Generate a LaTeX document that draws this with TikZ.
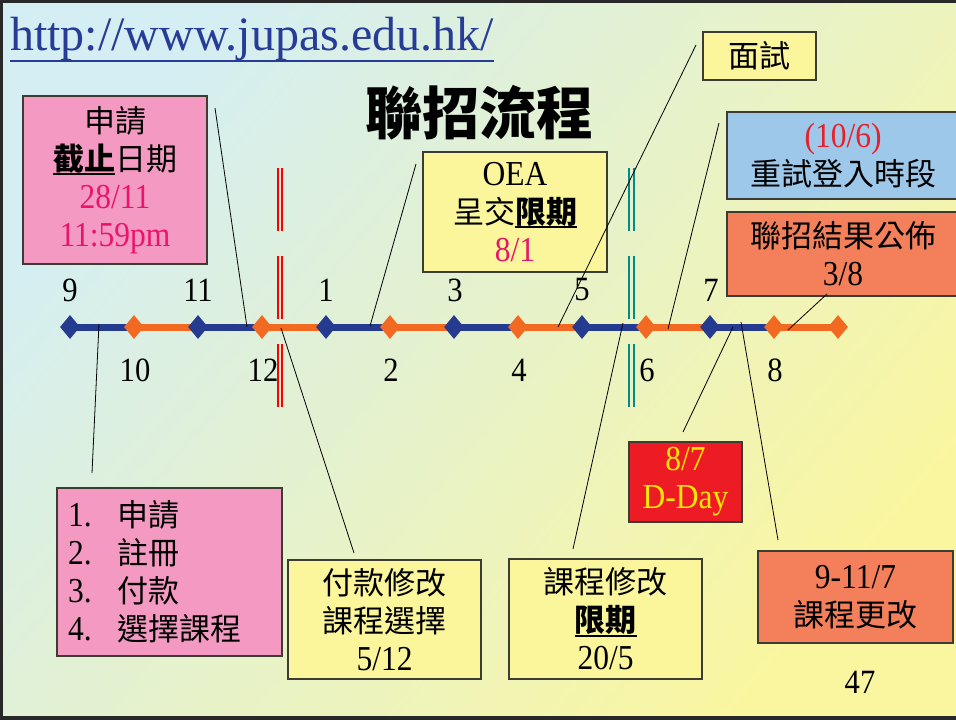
\documentclass[tikz,border=0pt]{standalone}
\usepackage{fontspec}
\setmainfont{Liberation Serif}
\newfontfamily\cjk{Noto Sans CJK TC}
\newfontfamily\ming[FakeStretch=0.9]{Liberation Serif}
\usetikzlibrary{shapes.geometric}

\definecolor{bgblue}{RGB}{212,238,243}
\definecolor{bgyellow}{RGB}{250,246,160}
\definecolor{tlblue}{RGB}{37,59,143}
\definecolor{tlorange}{RGB}{242,106,33}
\definecolor{pinkbox}{RGB}{244,154,194}
\definecolor{yellowbox}{RGB}{251,245,155}
\definecolor{bluebox}{RGB}{157,200,234}
\definecolor{orangebox}{RGB}{243,128,90}
\definecolor{redbox}{RGB}{237,28,36}
\definecolor{crimson}{RGB}{232,21,107}
\definecolor{tenred}{RGB}{232,32,42}
\definecolor{urlblue}{RGB}{38,60,150}
\definecolor{tealbar}{RGB}{0,140,140}
\definecolor{boxline}{RGB}{60,60,50}
\definecolor{ddayyellow}{RGB}{255,232,0}
\definecolor{frame}{RGB}{40,40,40}

\newcommand{\numtxt}[1]{{\ming\fontsize{35}{38}\selectfont #1}}
\newcommand{\bolduline}[1]{\setbox0\hbox{#1}\rlap{\rule[-5pt]{\wd0}{2pt}}\box0}

\pgfdeclarelayer{bg}
\pgfdeclarelayer{links}
\pgfsetlayers{bg,links,main}

\begin{document}
\begin{tikzpicture}[x=1pt,y=-1pt]

\tikzset{bluedia/.style = {shape=diamond,fill=tlblue,minimum width=20,minimum height=24,inner sep=0}}
\tikzset{orangedia/.style = {shape=diamond,fill=tlorange,minimum width=20,minimum height=24,inner sep=0}}
\tikzset{bluelink/.style = {draw=tlblue,line width=7}}
\tikzset{orangelink/.style = {draw=tlorange,line width=7}}
\tikzset{month/.style = {font=\ming\fontsize{34}{38}\selectfont,inner sep=0}}
\tikzset{box/.style = {draw=boxline,line width=1.2,inner sep=0,align=center,font=\cjk\fontsize{31}{38}\selectfont}}
\tikzset{callout/.style = {draw=black,line width=0.8}}
\tikzset{redbar/.style = {draw=red,line width=2,dash pattern=on 63pt off 25pt}}
\tikzset{tealbar/.style = {draw=tealbar,line width=2,dash pattern=on 63pt off 25pt}}

\useasboundingbox (0,0) rectangle (956,720);
\begin{pgfonlayer}{bg}
\shade[top color=bgblue,bottom color=bgyellow,shading angle=50] (0,0) rectangle (956,720);
\end{pgfonlayer}
\draw[frame,line width=3] (0,717.5) -- (1.5,717.5) -- (1.5,1.5) -- (956,1.5);
\draw[frame,line width=4] (0,718) -- (956,718);

%title
\node[inner sep=0,anchor=base west,text=urlblue,font=\fontsize{48}{50}\selectfont] (url) at (10,50) {http://www.jupas.edu.hk/};
\draw[urlblue,line width=2] ([yshift=-11pt]url.base west) -- ([yshift=-11pt]url.base east);
\node[inner sep=0,font=\cjk\bfseries\fontsize{57}{60}\selectfont] (title) at (479,113) {聯招流程};

%months
\node[bluedia] (d9) at (70,327) {};
\node[orangedia] (d10) at (134,327) {};
\node[bluedia] (d11) at (198,327) {};
\node[orangedia] (d12) at (262,327) {};
\node[bluedia] (d1) at (326,327) {};
\node[orangedia] (d2) at (390,327) {};
\node[bluedia] (d3) at (454,327) {};
\node[orangedia] (d4) at (518,327) {};
\node[bluedia] (d5) at (582,327) {};
\node[orangedia] (d6) at (646,327) {};
\node[bluedia] (d7) at (710,327) {};
\node[orangedia] (d8) at (774,327) {};
\node[orangedia] (dend) at (838,327) {};
\begin{pgfonlayer}{links}
\draw[bluelink] (d9.center) -- (d10.center);
\draw[orangelink] (d10.center) -- (d11.center);
\draw[bluelink] (d11.center) -- (d12.center);
\draw[orangelink] (d12.center) -- (d1.center);
\draw[bluelink] (d1.center) -- (d2.center);
\draw[orangelink] (d2.center) -- (d3.center);
\draw[bluelink] (d3.center) -- (d4.center);
\draw[orangelink] (d4.center) -- (d5.center);
\draw[bluelink] (d5.center) -- (d6.center);
\draw[orangelink] (d6.center) -- (d7.center);
\draw[bluelink] (d7.center) -- (d8.center);
\draw[orangelink] (d8.center) -- (dend.center);
\end{pgfonlayer}
%month labels
\node[month] (n9) at (70,290) {9};
\node[month] (n11) at (198,290) {11};
\node[month] (n1) at (326,290) {1};
\node[month] (n3) at (455,290) {3};
\node[month] (n5) at (582,290) {5};
\node[month] (n7) at (711,290) {7};
\node[month] (n10) at (135,370) {10};
\node[month] (n12) at (263,370) {12};
\node[month] (n2) at (391,370) {2};
\node[month] (n4) at (519,370) {4};
\node[month] (n6) at (647,370) {6};
\node[month] (n8) at (775,370) {8};

%year bars
\draw[redbar] (277.5,168) -- (277.5,407);
\draw[redbar] (281.5,168) -- (281.5,407);
\draw[tealbar] (628.7,168) -- (628.7,407);
\draw[tealbar] (633.7,168) -- (633.7,407);

%boxes
\node[box,fill=pinkbox,minimum width=184,minimum height=168] (apply) at (115,180)
  {申請\\\bolduline{\bfseries 截止}日期\\\numtxt{\color{crimson}28/11}\\\numtxt{\color{crimson}11:59pm}};
\node[box,fill=yellowbox,minimum width=184,minimum height=120] (oea) at (515,212)
  {\numtxt{OEA}\\呈交\bolduline{\bfseries 限期}\\\numtxt{\color{crimson}8/1}};
\node[box,fill=yellowbox,minimum width=113,minimum height=48] (interview) at (759.5,56) {面試};
\node[box,fill=bluebox,minimum width=232,minimum height=87] (retry) at (843,155.5)
  {\numtxt{\color{tenred}(10/6)}\\重試登入時段};
\node[box,fill=orangebox,minimum width=232,minimum height=84] (result) at (843,254)
  {聯招結果公佈\\\numtxt{3/8}};
\node[box,fill=redbox,text=ddayyellow,minimum width=113,minimum height=80] (dday) at (685.5,482)
  {\numtxt{8/7}\\\numtxt{D-Day}};
\node[box,fill=orangebox,minimum width=195,minimum height=92] (change) at (855.5,597)
  {\numtxt{9-11/7}\\課程更改};
\node[box,fill=yellowbox,minimum width=193,minimum height=120] (coursemod) at (605.5,619)
  {課程修改\\\bolduline{\bfseries 限期}\\\numtxt{20/5}};
\node[box,fill=yellowbox,minimum width=193,minimum height=119] (payment) at (384.5,619.5)
  {付款修改\\課程選擇\\\numtxt{5/12}};
\node[box,fill=pinkbox,align=left,text width=203,inner xsep=11,minimum height=168] (steps) at (169.5,572)
  {\makebox[49pt][l]{\numtxt{1.}}申請\\\makebox[49pt][l]{\numtxt{2.}}註冊\\\makebox[49pt][l]{\numtxt{3.}}付款\\\makebox[49pt][l]{\numtxt{4.}}選擇課程};
\node[month] (page) at (860,682) {47};

%callout lines
\coordinate (c1a) at (215,108); \coordinate (c1b) at (247,327);
\coordinate (c2a) at (416,164); \coordinate (c2b) at (370,326);
\coordinate (c3a) at (696,45); \coordinate (c3b) at (558,327);
\coordinate (c4a) at (719,123); \coordinate (c4b) at (668,329);
\coordinate (c5a) at (827,294); \coordinate (c5b) at (788,330);
\coordinate (c6a) at (683,432); \coordinate (c6b) at (733,327);
\coordinate (c7a) at (778,540); \coordinate (c7b) at (741,322);
\coordinate (c8a) at (573,549); \coordinate (c8b) at (623,323);
\coordinate (c9a) at (354,553); \coordinate (c9b) at (281,328);
\coordinate (c10a) at (92,473); \coordinate (c10b) at (99,324);
\draw[callout] (c1a) -- (c1b);
\draw[callout] (c2a) -- (c2b);
\draw[callout] (c3a) -- (c3b);
\draw[callout] (c4a) -- (c4b);
\draw[callout] (c5a) -- (c5b);
\draw[callout] (c6a) -- (c6b);
\draw[callout] (c7a) -- (c7b);
\draw[callout] (c8a) -- (c8b);
\draw[callout] (c9a) -- (c9b);
\draw[callout] (c10a) -- (c10b);

\end{tikzpicture}
\end{document}
